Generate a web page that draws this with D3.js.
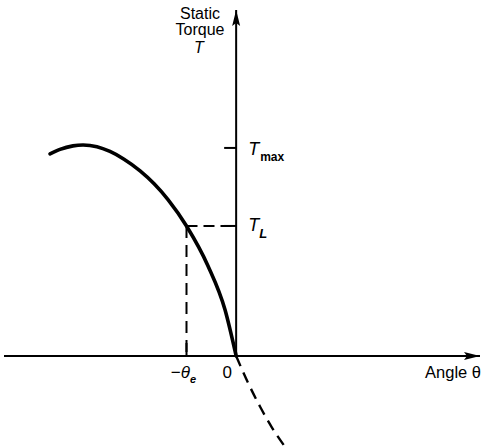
<!DOCTYPE html>
<html>
<head>
<meta charset="utf-8">
<script src="https://cdn.jsdelivr.net/npm/d3@7"></script>
<style>
  html, body { margin: 0; padding: 0; background: #fff; }
  svg { display: block; }
  text { font-family: "Liberation Sans", Arial, sans-serif; fill: #000; }
</style>
</head>
<body>
<script>
// Static torque T versus rotor angle θ (degrees), torque normalised to T_max = 1
const thetaSolid  = [-108.7, -102.9, -95.3, -89.4, -81.3, -73.7, -65.5, -56.1, -47.9, -39.8, -29.0, -16.5, -6.5, 0];
const torqueSolid = [0.971, 0.993, 1.010, 1.014, 1.006, 0.983, 0.946, 0.890, 0.828, 0.752, 0.625, 0.434, 0.222, 0];
const thetaDashed  = [0, 7, 14, 21, 28.6];
const torqueDashed = [0, -0.13, -0.244, -0.345, -0.4375];

// Marked values on the axes
const tMax = 1.0;
const tLoad = 0.625;
const thetaE = -29.0;

const W = 482, H = 447;
const svg = d3.select("body").append("svg").attr("width", W).attr("height", H);

const x = d3.scaleLinear().domain([-135, 143]).range([5, 481]);
const y = d3.scaleLinear().domain([-0.4375, 1.663]).range([447, 10]);

const x0 = x(0), y0 = y(0);

// arrowhead marker
svg.append("defs").append("marker")
  .attr("id", "arrow").attr("viewBox", "0 0 16 10")
  .attr("refX", 16).attr("refY", 5)
  .attr("markerWidth", 16).attr("markerHeight", 10)
  .attr("markerUnits", "userSpaceOnUse")
  .attr("orient", "auto")
  .append("path").attr("d", "M0,1 L16,5 L0,9 L3,5 Z").attr("fill", "#000");

// axes
svg.append("line")
  .attr("x1", x(-135) - 1).attr("y1", y0).attr("x2", x(143) - 1).attr("y2", y0)
  .attr("stroke", "#000").attr("stroke-width", 2).attr("marker-end", "url(#arrow)");
svg.append("line")
  .attr("x1", x0).attr("y1", y0).attr("x2", x0).attr("y2", y(1.663))
  .attr("stroke", "#000").attr("stroke-width", 2).attr("marker-end", "url(#arrow)");

// ticks on the torque axis
[tMax, tLoad].forEach(v => {
  svg.append("line")
    .attr("x1", x0 - 12).attr("x2", x0).attr("y1", y(v)).attr("y2", y(v))
    .attr("stroke", "#000").attr("stroke-width", 2);
});
// tick at -θe
svg.append("line")
  .attr("x1", x(thetaE)).attr("x2", x(thetaE)).attr("y1", y0 - 13).attr("y2", y0)
  .attr("stroke", "#000").attr("stroke-width", 2);

// dashed guides to the operating point
svg.append("line")
  .attr("x1", x(thetaE)).attr("y1", y(tLoad)).attr("x2", x0).attr("y2", y(tLoad))
  .attr("stroke", "#000").attr("stroke-width", 2).attr("stroke-dasharray", "11,6");
svg.append("line")
  .attr("x1", x(thetaE)).attr("y1", y(tLoad)).attr("x2", x(thetaE)).attr("y2", y0)
  .attr("stroke", "#000").attr("stroke-width", 2).attr("stroke-dasharray", "12,7");

// torque curve
const line = d3.line().x(d => x(d[0])).y(d => y(d[1])).curve(d3.curveMonotoneX);
svg.append("path")
  .attr("d", line(d3.zip(thetaSolid, torqueSolid)))
  .attr("fill", "none").attr("stroke", "#000").attr("stroke-width", 3.6)
  .attr("stroke-linecap", "round");
svg.append("path")
  .attr("d", line(d3.zip(thetaDashed, torqueDashed)))
  .attr("fill", "none").attr("stroke", "#000").attr("stroke-width", 2.4)
  .attr("stroke-dasharray", "11,7");

// axis titles
const title = svg.append("text").attr("text-anchor", "middle").attr("font-size", 16);
title.append("tspan").attr("x", 200).attr("y", 19).text("Static");
title.append("tspan").attr("x", 200).attr("y", 35).text("Torque");
svg.append("text").attr("x", 199).attr("y", 53).attr("text-anchor", "middle")
  .attr("font-size", 16).attr("font-style", "italic").text("T");

svg.append("text").attr("x", 481).attr("y", 378).attr("text-anchor", "end")
  .attr("font-size", 16.5).text("Angle θ");

// T_max label
const tm = svg.append("text").attr("x", x0 + 12).attr("y", y(tMax) + 7).attr("font-size", 18);
tm.append("tspan").attr("font-style", "italic").text("T");
tm.append("tspan").attr("font-size", 12).attr("dy", 6).attr("dx", 1).attr("font-weight", "bold").text("max");

// T_L label
const tl = svg.append("text").attr("x", x0 + 12).attr("y", y(tLoad) + 5).attr("font-size", 18);
tl.append("tspan").attr("font-style", "italic").text("T");
tl.append("tspan").attr("font-size", 13).attr("dy", 7).attr("font-style", "italic").attr("font-weight", "bold").text("L");

// -θe and 0 labels
const te = svg.append("text").attr("x", x(thetaE) - 3).attr("y", 378).attr("text-anchor", "middle").attr("font-size", 17);
te.append("tspan").text("−");
te.append("tspan").attr("font-style", "italic").text("θ");
te.append("tspan").attr("font-size", 11).attr("dy", 5).attr("font-style", "italic").attr("font-weight", "bold").text("e");

svg.append("text").attr("x", x0 - 9).attr("y", 378).attr("text-anchor", "middle")
  .attr("font-size", 17).text("0");
</script>
</body>
</html>
